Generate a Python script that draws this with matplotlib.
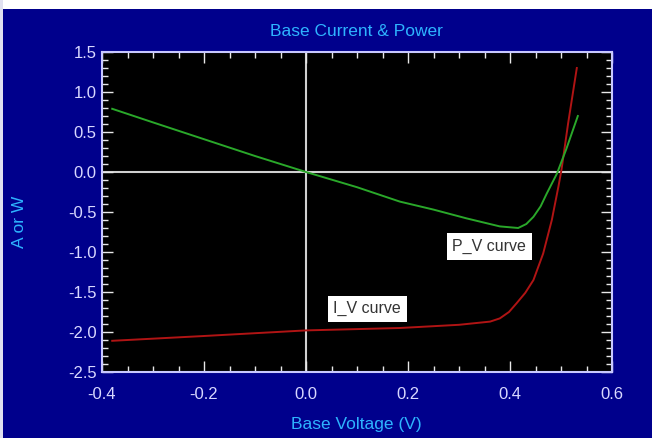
import matplotlib
matplotlib.use('Agg')
import matplotlib.pyplot as plt
from matplotlib.ticker import MultipleLocator, FormatStrFormatter
from matplotlib.patches import Rectangle

# 读图得到的数据
pv_v = [-0.38, -0.30, -0.20, -0.10, 0.00, 0.10, 0.184, 0.25, 0.315, 0.38, 0.416, 0.432, 0.446, 0.46, 0.472, 0.492, 0.51, 0.533]
pv_p = [0.79, 0.62, 0.41, 0.20, 0.00, -0.19, -0.37, -0.47, -0.58, -0.68, -0.70, -0.65, -0.56, -0.43, -0.27, -0.02, 0.28, 0.70]

iv_v = [-0.38, -0.20, 0.00, 0.184, 0.30, 0.361, 0.38, 0.398, 0.413, 0.43, 0.446, 0.465, 0.482, 0.495, 0.501, 0.514, 0.531]
iv_i = [-2.11, -2.05, -1.98, -1.95, -1.91, -1.87, -1.83, -1.75, -1.64, -1.51, -1.35, -1.02, -0.60, -0.18, 0.03, 0.61, 1.30]

x_ticks = [-0.4, -0.2, 0.0, 0.2, 0.4, 0.6]
y_ticks = [-2.5, -2.0, -1.5, -1.0, -0.5, 0.0, 0.5, 1.0, 1.5]

plt.rcParams['font.family'] = ['Liberation Sans Narrow', 'Liberation Sans', 'DejaVu Sans']

bg = '#00008c'
lab = '#d8d8ff'
cyan = '#2eb4ff'

W, H = 652, 438
fig = plt.figure(figsize=(W / 100, H / 100), dpi=100, facecolor=bg)
# 顶部和左边的白边
fig.patches.append(Rectangle((0, 1 - 9 / H), 1, 9 / H, transform=fig.transFigure,
                             facecolor='white', edgecolor='none', zorder=-1))
fig.patches.append(Rectangle((0, 0), 3 / W, 1, transform=fig.transFigure,
                             facecolor='#e0e0f0', edgecolor='none', zorder=-1))

ax = fig.add_axes([102 / W, (H - 372) / H, 510 / W, 320 / H])
ax.set_facecolor('black')

ax.axhline(0, color='#d0d0d0', lw=1.5, zorder=1)
ax.axvline(0, color='#d0d0d0', lw=1.5, zorder=1)

ax.plot(pv_v, pv_p, color='#2aa82a', lw=1.4, zorder=3)
ax.plot(iv_v, iv_i, color='#b01414', lw=1.4, zorder=2)

ax.set_xlim(-0.4, 0.6)
ax.set_ylim(-2.5, 1.5)
ax.set_xticks(x_ticks)
ax.set_yticks(y_ticks)
ax.xaxis.set_minor_locator(MultipleLocator(0.05))
ax.yaxis.set_minor_locator(MultipleLocator(0.1))
ax.xaxis.set_major_formatter(FormatStrFormatter('%.1f'))
ax.yaxis.set_major_formatter(FormatStrFormatter('%.1f'))

for s in ax.spines.values():
    s.set_color('#c8c8ff')
    s.set_linewidth(1.5)

ax.tick_params(which='both', direction='in', top=True, right=True, colors='#e8e8e8')
ax.tick_params(which='major', length=8, width=1)
ax.tick_params(which='minor', length=4, width=1)
ax.tick_params(axis='x', which='major', pad=11, labelsize=12, labelcolor=lab)
ax.tick_params(axis='y', which='major', pad=4, labelsize=12, labelcolor=lab)

# 曲线标注
box = dict(facecolor='white', edgecolor='none', pad=4)
ax.text(0.359, -0.93, 'P_V curve', ha='center', va='center', fontsize=11.5,
        color='#333333', bbox=box, family=['Liberation Sans', 'DejaVu Sans'])
ax.text(0.120, -1.71, 'I_V curve', ha='center', va='center', fontsize=11.5,
        color='#333333', bbox=box, family=['Liberation Sans', 'DejaVu Sans'])

fig.text(356 / W, 1 - 32 / H, 'Base Current & Power', ha='center', va='center',
         fontsize=12.5, color=cyan)
fig.text(356 / W, 1 - 424 / H, 'Base Voltage (V)', ha='center', va='center',
         fontsize=12.5, color=cyan)
fig.text(19 / W, 1 - 222 / H, 'A or W', ha='center', va='center', rotation=90,
         fontsize=12.5, color=cyan)

fig.savefig('out.png', dpi=100, facecolor=bg)
